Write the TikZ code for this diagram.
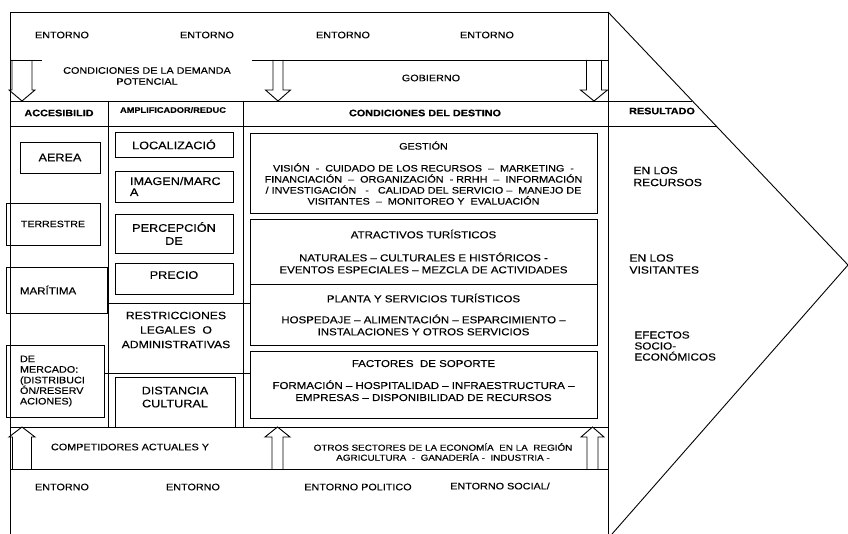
\documentclass[tikz,border=0pt]{standalone}
\usepackage{fontspec}
\setmainfont{Liberation Sans}[FakeStretch=1.15, FakeBold=0.3]

\begin{document}
\begin{tikzpicture}[x=1pt, y=-1pt, line width=0.9pt,
    txt/.style={inner sep=0pt, font=\fontsize{9.4}{11}\selectfont},
    head/.style={inner sep=0pt, font=\bfseries\fontsize{9.4}{11}\selectfont},
    acc/.style={draw, inner sep=0pt, font=\fontsize{9.6}{10.5}\selectfont},
    amp/.style={draw, inner sep=0pt, minimum width=118pt, align=center, font=\fontsize{11}{13}\selectfont},
    cond/.style={draw, inner sep=0pt, minimum width=347pt, align=center, font=\fontsize{10}{12}\selectfont},
    res/.style={inner sep=0pt, anchor=west, align=left, font=\fontsize{10.5}{12}\selectfont}]
    \useasboundingbox (0,0) rectangle (848,534);

    % frame and result chevron
    \draw (10,534) -- (10,12) -- (608,12) -- (608,534);
    \draw (608,12) -- (848,265) -- (612,534);
    \draw (10,60) -- (42,60) (252,60) -- (608,60);
    \draw (10,101) -- (692.4,101);
    \draw (10,126) -- (716,126);
    \draw (108,101) -- (108,427) (243,101) -- (243,427);
    \draw (107,303) -- (250,303) (104,373) -- (250,373);
    \draw (10,427) -- (608,427) (10,469) -- (608,469);

    % block arrows
    \foreach \cx/\sw/\hw in {22/10/13, 278/5/12.5, 594/7.5/13.5}
        \draw (\cx-\sw,60) -- (\cx-\sw,90) -- (\cx-\hw,90) -- (\cx,101) -- (\cx+\hw,90) -- (\cx+\sw,90) -- (\cx+\sw,60);
    \foreach \cx/\sw/\hw in {22/9.5/13, 277.5/5.5/12.5, 592.5/5.5/11.5}
        \draw (\cx-\sw,469) -- (\cx-\sw,437) -- (\cx-\hw,437) -- (\cx,427) -- (\cx+\hw,437) -- (\cx+\sw,437) -- (\cx+\sw,469);

    % top band
    \node[txt] (e1) at (62,35) {ENTORNO};
    \node[txt] (e2) at (207,35) {ENTORNO};
    \node[txt] (e3) at (343,35) {ENTORNO};
    \node[txt] (e4) at (487,35) {ENTORNO};
    \node[txt, align=center] (demanda) at (147,76) {CONDICIONES DE LA DEMANDA\\POTENCIAL};
    \node[txt] (gobierno) at (431,78) {GOBIERNO};

    % column heads
    \node[head] (hacc) at (59,113) {ACCESIBILID};
    \node[head, font=\bfseries\fontsize{8}{9}\selectfont] (hamp) at (173,110) {AMPLIFICADOR/REDUC};
    \node[head] (hcond) at (425,113) {CONDICIONES DEL DESTINO};
    \node[head] (hres) at (662,111) {RESULTADO};

    % accesibilidad
    \node[acc, minimum width=80pt, minimum height=31pt, font=\fontsize{11}{13}\selectfont] (aerea) at (60,157.5) {AEREA};
    \node[acc, minimum width=94pt, minimum height=42pt, font=\fontsize{9.2}{11}\selectfont] (terrestre) at (53,224) {TERRESTRE};
    \node[acc, minimum width=101pt, minimum height=46pt, text width=73pt, align=left, font=\fontsize{10}{11}\selectfont] (maritima) at (56.5,290) {MARÍTIMA};
    \node[acc, minimum width=98pt, minimum height=72pt, text width=70pt, align=left, font=\fontsize{9.4}{10.6}\selectfont] (mercado) at (55,381) {DE\\MERCADO:\\(DISTRIBUCI\\ÓN/RESERV\\ACIONES)};

    % amplificador / reductor
    \node[amp, minimum height=25pt] (localizacion) at (174,144.5) {LOCALIZACIÓ};
    \node[amp, minimum height=31pt, text width=88pt, align=left, font=\fontsize{11}{11}\selectfont] (imagen) at (174,186.5) {IMAGEN/MARC\\A};
    \node[amp, minimum height=39pt] (percepcion) at (174,233.5) {PERCEPCIÓN\\DE};
    \node[amp, minimum height=31pt, text depth=7pt] (precio) at (174,278.5) {PRECIO};
    \node[txt, align=center, font=\fontsize{10.6}{14.5}\selectfont] (restricciones) at (176,330) {RESTRICCIONES\\LEGALES \ O\\ADMINISTRATIVAS};
    \node[amp, minimum width=120pt, minimum height=50pt, text depth=10pt] (distancia) at (175,402) {DISTANCIA\\CULTURAL};

    % condiciones del destino
    \node[cond, minimum height=80pt, font=\fontsize{9.4}{11}\selectfont] (gestion) at (423.5,173) {GESTIÓN\\[11pt]
        VISIÓN \ - \ CUIDADO DE LOS RECURSOS \ – \ MARKETING \ -\\
        FINANCIACIÓN \ – \ ORGANIZACIÓN \ - RRHH \ – \ INFORMACIÓN\\
        / INVESTIGACIÓN \ \ - \ \ CALIDAD DEL SERVICIO – \ MANEJO DE\\
        VISITANTES \ – \ MONITOREO Y \ EVALUACIÓN};
    \node[cond, minimum height=65pt] (atractivos) at (423.5,251.5) {ATRACTIVOS TURÍSTICOS\\[11pt]
        NATURALES – CULTURALES E HISTÓRICOS -\\
        EVENTOS ESPECIALES – MEZCLA DE ACTIVIDADES};
    \node[cond, minimum height=61pt] (planta) at (423.5,314.5) {PLANTA Y SERVICIOS TURÍSTICOS\\[9pt]
        HOSPEDAJE – ALIMENTACIÓN – ESPARCIMIENTO –\\
        INSTALACIONES Y OTROS SERVICIOS};
    \node[cond, minimum height=67pt, text depth=8pt] (soporte) at (423.5,384.5) {FACTORES \ DE SOPORTE\\[10pt]
        FORMACIÓN – HOSPITALIDAD – INFRAESTRUCTURA –\\
        EMPRESAS – DISPONIBILIDAD DE RECURSOS};

    % resultado
    \node[res] (recursos) at (633,176.5) {EN LOS\\RECURSOS};
    \node[res] (visitantes) at (629,264) {EN LOS\\VISITANTES};
    \node[res, font=\fontsize{10.2}{11}\selectfont] (efectos) at (634,346) {EFECTOS\\SOCIO-\\ECONÓMICOS};

    % bottom band
    \node[txt] (competidores) at (130,447) {COMPETIDORES ACTUALES Y};
    \node[txt, align=center, font=\fontsize{8.6}{10}\selectfont] (sectores) at (443,452) {OTROS SECTORES DE LA ECONOMÍA \ EN LA \ REGIÓN\\AGRICULTURA \ - \ GANADERÍA - \ INDUSTRIA -};
    \node[txt] (b1) at (62,487) {ENTORNO};
    \node[txt] (b2) at (193,487) {ENTORNO};
    \node[txt] (b3) at (358,487) {ENTORNO POLITICO};
    \node[txt] (b4) at (500,486) {ENTORNO SOCIAL/};
\end{tikzpicture}
\end{document}
